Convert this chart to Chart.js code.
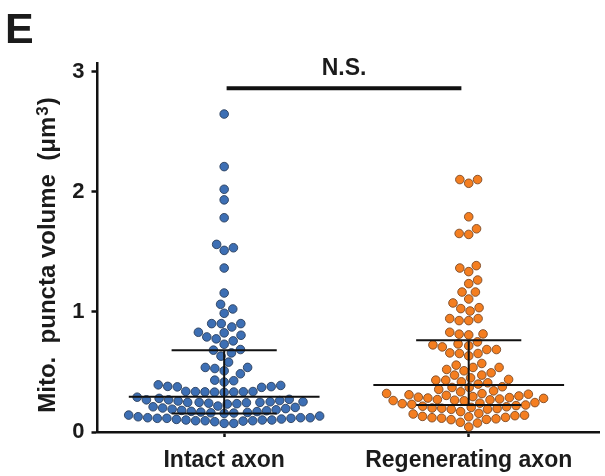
<!DOCTYPE html>
<html>
<head>
<meta charset="utf-8">
<script src="https://cdn.jsdelivr.net/npm/chart.js@4.4.1/dist/chart.umd.min.js"></script>
<style>
  html, body { margin: 0; padding: 0; background: #fff; }
  canvas { display: block; }
</style>
</head>
<body>
<canvas id="chart" width="605" height="476"></canvas>
<script>
// values (µm3)
const categories = ['Intact axon', 'Regenerating axon'];

const intactVals = [
  0.072, 0.072, 0.086, 0.091, 0.094, 0.094, 0.094, 0.100, 0.100, 0.100, 0.105,
  0.108, 0.114, 0.114, 0.114, 0.119, 0.119, 0.119, 0.127, 0.133, 0.141,
  0.155, 0.158, 0.160, 0.163, 0.166, 0.170, 0.172, 0.177, 0.180, 0.185, 0.190,
  0.195, 0.200, 0.205, 0.210, 0.216,
  0.233, 0.236, 0.240, 0.244, 0.247, 0.247, 0.247, 0.252, 0.252, 0.258, 0.262,
  0.268, 0.268, 0.272, 0.280, 0.290,
  0.330, 0.332, 0.333, 0.334, 0.335, 0.336, 0.337, 0.338, 0.372, 0.376, 0.378, 0.380,
  0.388, 0.393, 0.416, 0.427, 0.432, 0.485, 0.510, 0.529, 0.538, 0.538, 0.582,
  0.632, 0.659, 0.682, 0.687, 0.731, 0.759, 0.776, 0.792, 0.806, 0.826, 0.831,
  0.875, 0.903, 0.903, 0.903, 0.989, 1.025, 1.064, 1.158, 1.366, 1.513, 1.535,
  1.563, 1.785, 1.934, 2.022, 2.211, 2.649
];

const regenVals = [
  0.042, 0.075, 0.081, 0.103, 0.105, 0.110, 0.115, 0.119, 0.122, 0.127, 0.130,
  0.136, 0.140, 0.150, 0.155, 0.170,
  0.189, 0.190, 0.195, 0.198, 0.200, 0.205, 0.210, 0.215, 0.220, 0.225, 0.230,
  0.236, 0.240, 0.245,
  0.260, 0.262, 0.265, 0.268, 0.270, 0.275, 0.280, 0.283, 0.287, 0.290, 0.295,
  0.300, 0.305, 0.310, 0.315, 0.320, 0.321,
  0.335, 0.343, 0.355, 0.371, 0.371, 0.377, 0.399,
  0.410, 0.418, 0.432, 0.432, 0.438, 0.451, 0.474, 0.474,
  0.493, 0.510, 0.521, 0.538, 0.538, 0.557, 0.571,
  0.634, 0.654, 0.654, 0.659, 0.687, 0.687, 0.709,
  0.718, 0.726, 0.734, 0.751,
  0.809, 0.815, 0.817, 0.831, 0.928, 0.928, 0.945, 0.945,
  1.008, 1.028, 1.036, 1.075, 1.108, 1.166, 1.166, 1.236, 1.266,
  1.336, 1.366, 1.386, 1.646, 1.654, 1.693, 1.793, 2.072, 2.103, 2.103
];

// median and interquartile range lines
const medianVals = [0.293, 0.391];
const q1Vals = [0.155, 0.224];
const q3Vals = [0.682, 0.765];

const yTicks = [0, 1, 2, 3];
const sigLabel = 'N.S.';
const sigLevel = 2.863;

// layout
const X_MIN = -0.518, X_MAX = 1.536, Y_MAX = 3.07;
const AREA_LEFT = 97.5, AREA_RIGHT = 605, AREA_TOP = 63.5, AREA_BOTTOM = 432;
const pxPerX = (AREA_RIGHT - AREA_LEFT) / (X_MAX - X_MIN);
const pxPerY = (AREA_BOTTOM - AREA_TOP) / Y_MAX;
const DOT = 9.7;
const ink = '#1b1b1b';
const fontFam = '"Liberation Sans", Arial, sans-serif';

// simple beeswarm: each point goes to the free slot nearest the centre
function swarm(values, center) {
  const sorted = values.slice().sort((a, b) => a - b);
  const placed = [];
  let flip = 1;
  sorted.forEach(v => {
    const yp = v * pxPerY;
    const near = placed.filter(p => Math.abs(p.y - yp) < DOT);
    let cands = [0];
    near.forEach(p => {
      const dx = Math.sqrt(DOT * DOT - (p.y - yp) * (p.y - yp));
      cands.push(p.x + dx, p.x - dx);
    });
    cands = cands.filter(c => near.every(p => {
      const dy = p.y - yp, dx = c - p.x;
      return dx * dx + dy * dy >= DOT * DOT - 0.01;
    }));
    cands.sort((a, b) => {
      const d = Math.abs(a) - Math.abs(b);
      if (Math.abs(d) > 0.05) return d;
      return flip * (b - a);
    });
    const x = cands[0];
    if (Math.abs(x) > 0.05) flip = -flip;
    placed.push({ x: x, y: yp });
  });
  return placed.map(p => ({ x: center + p.x / pxPerX, y: p.y / pxPerY }));
}

function seg(x1, y1, x2, y2, w) {
  return {
    data: [{ x: x1, y: y1 }, { x: x2, y: y2 }],
    showLine: true,
    borderColor: '#111',
    borderWidth: w,
    pointRadius: 0,
    pointHoverRadius: 0,
    order: 0
  };
}

const lineSets = [];
categories.forEach((c, i) => {
  lineSets.push(seg(i - 0.39, medianVals[i], i + 0.39, medianVals[i], 2));
  lineSets.push(seg(i - 0.215, q1Vals[i], i + 0.215, q1Vals[i], 2));
  lineSets.push(seg(i - 0.215, q3Vals[i], i + 0.215, q3Vals[i], 2));
  lineSets.push(seg(i, q1Vals[i], i, q3Vals[i], 2));
});
lineSets.push(seg(0.01, sigLevel, 0.97, sigLevel, 4));

const dotSets = [
  {
    data: swarm(intactVals, 0),
    pointRadius: 4.3,
    pointBackgroundColor: '#3d6fb4',
    pointBorderColor: '#2b3f5c',
    pointBorderWidth: 0.9,
    order: 1
  },
  {
    data: swarm(regenVals, 1),
    pointRadius: 4.3,
    pointBackgroundColor: '#f47e20',
    pointBorderColor: '#7c4a26',
    pointBorderWidth: 0.9,
    order: 1
  }
];

const textPlugin = {
  id: 'texts',
  afterDraw(chart) {
    const ctx = chart.ctx;
    const xs = chart.scales.x, ys = chart.scales.y;
    ctx.save();
    ctx.fillStyle = ink;

    // panel letter
    ctx.font = 'bold 43px ' + fontFam;
    ctx.textAlign = 'left';
    ctx.textBaseline = 'alphabetic';
    ctx.fillText('E', 5, 43);

    // significance label
    ctx.font = 'bold 23px ' + fontFam;
    ctx.textAlign = 'center';
    ctx.fillText(sigLabel, xs.getPixelForValue(0.49), ys.getPixelForValue(sigLevel) - 13);

    // y axis title with raised 3
    const big = 'bold 24px ' + fontFam;
    const small = 'bold 17px ' + fontFam;
    const partA = 'Mito.  puncta volume  (\u03bcm';
    const partB = '3';
    const partC = ')';
    ctx.font = big;
    const wA = ctx.measureText(partA).width;
    const wC = ctx.measureText(partC).width;
    ctx.font = small;
    const wB = ctx.measureText(partB).width;
    const total = wA + wB + 2 + wC;
    ctx.translate(55, 255);
    ctx.rotate(-Math.PI / 2);
    ctx.textAlign = 'left';
    let x0 = -total / 2;
    ctx.font = big;
    ctx.fillText(partA, x0, 0);
    ctx.font = small;
    ctx.fillText(partB, x0 + wA + 1, -7);
    ctx.font = big;
    ctx.fillText(partC, x0 + wA + wB + 2, 0);
    ctx.restore();
  }
};

new Chart(document.getElementById('chart'), {
  type: 'scatter',
  data: { datasets: lineSets.concat(dotSets) },
  options: {
    responsive: false,
    animation: false,
    devicePixelRatio: 1,
    layout: { padding: { top: AREA_TOP, right: 0, left: 0, bottom: 0 } },
    plugins: { legend: { display: false }, tooltip: { enabled: false } },
    scales: {
      x: {
        type: 'linear',
        min: X_MIN,
        max: X_MAX,
        afterBuildTicks: (s) => { s.ticks = categories.map((c, i) => ({ value: i })); },
        afterFit: (s) => { s.height = 476 - AREA_BOTTOM; },
        ticks: {
          callback: (v) => categories[Math.round(v)],
          font: { family: fontFam, size: 23, weight: 'bold' },
          color: ink,
          padding: 10,
          maxRotation: 0,
          autoSkip: false
        },
        grid: { drawOnChartArea: false, tickLength: 5, tickWidth: 2.5, tickColor: '#111' },
        border: { display: true, color: '#111', width: 2.5 }
      },
      y: {
        min: 0,
        max: Y_MAX,
        afterBuildTicks: (s) => { s.ticks = yTicks.map(v => ({ value: v })); },
        afterFit: (s) => { s.width = AREA_LEFT; },
        ticks: {
          font: { family: fontFam, size: 22, weight: 'bold' },
          color: ink,
          padding: 7
        },
        grid: { drawOnChartArea: false, tickLength: 6, tickWidth: 2.5, tickColor: '#111' },
        border: { display: true, color: '#111', width: 2.5 }
      }
    }
  },
  plugins: [textPlugin]
});
</script>
</body>
</html>
